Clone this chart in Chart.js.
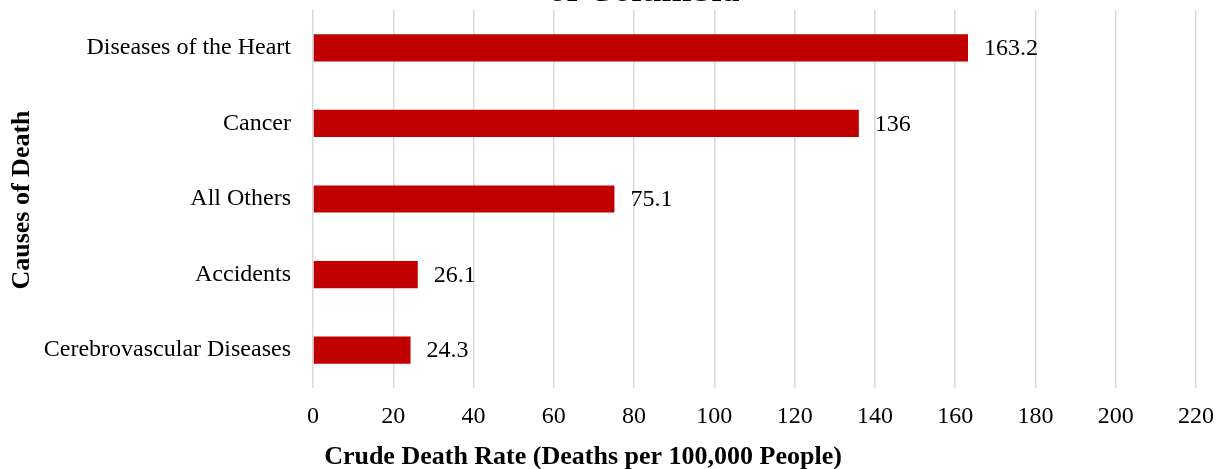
<!DOCTYPE html>
<html>
<head>
<meta charset="utf-8">
<script src="https://cdn.jsdelivr.net/npm/chart.js@4/dist/chart.umd.min.js"></script>
<style>
  html, body { margin: 0; padding: 0; background: #fff; }
  #wrap { width: 1216px; height: 469px; position: relative; }
</style>
</head>
<body>
<div id="wrap"><canvas id="chart"></canvas></div>
<script>
// Leading causes of death, crude rate per 100,000
const causes = ['Diseases of the Heart', 'Cancer', 'All Others', 'Accidents', 'Cerebrovascular Diseases'];
const rates = [163.2, 136, 75.1, 26.1, 24.3];
const xTicks = [0, 20, 40, 60, 80, 100, 120, 140, 160, 180, 200, 220];

const SERIF = '"Liberation Serif", "Times New Roman", serif';
const BAR_RED = '#C00000';

// value labels at the end of each bar + axis titles + clipped title line
const annotate = {
    id: 'annotate',
    afterDatasetsDraw(chart) {
        const ctx = chart.ctx;
        const meta = chart.getDatasetMeta(0);
        ctx.save();
        ctx.fillStyle = '#000';
        ctx.font = '24px ' + SERIF;
        ctx.textAlign = 'left';
        ctx.textBaseline = 'middle';
        meta.data.forEach((bar, i) => {
            ctx.fillText(String(rates[i]), bar.x + 16, bar.y + 1);
        });

        ctx.font = 'bold 26px ' + SERIF;
        ctx.textAlign = 'center';
        ctx.textBaseline = 'middle';
        ctx.fillText('Crude Death Rate (Deaths per 100,000 People)', 583, 457);

        ctx.save();
        ctx.translate(22, 200);
        ctx.rotate(-Math.PI / 2);
        ctx.fillText('Causes of Death', 0, 0);
        ctx.restore();

        // only the lower line of the title fits on the canvas
        ctx.font = 'bold 36px ' + SERIF;
        ctx.textBaseline = 'alphabetic';
        ctx.fillText('of Columbia', 644, 0.5);
        ctx.restore();
    }
};

new Chart(document.getElementById('chart').getContext('2d'), {
    type: 'bar',
    data: {
        labels: causes,
        datasets: [{
            data: rates,
            backgroundColor: BAR_RED,
            borderWidth: 0,
            barPercentage: 0.36,
            categoryPercentage: 1
        }]
    },
    options: {
        indexAxis: 'y',
        responsive: true,
        maintainAspectRatio: false,
        animation: false,
        layout: { padding: { top: 10, right: 20, left: 0, bottom: 0 } },
        plugins: {
            legend: { display: false },
            tooltip: { enabled: false }
        },
        scales: {
            x: {
                min: 0,
                max: 220,
                afterBuildTicks: (scale) => { scale.ticks = xTicks.map(v => ({ value: v })); },
                afterFit: (scale) => {
                    scale.height = 81;
                    scale.paddingLeft = 0;
                    scale.paddingRight = 0;
                },
                border: { display: false },
                grid: { color: '#d9d9d9', lineWidth: 1.5, drawTicks: false },
                ticks: {
                    padding: 14,
                    color: '#000',
                    font: { family: SERIF, size: 24 }
                }
            },
            y: {
                afterFit: (scale) => {
                    scale.width = 313;
                    scale.paddingTop = 0;
                    scale.paddingBottom = 0;
                },
                border: { display: false },
                grid: { display: false, drawTicks: false },
                ticks: {
                    padding: 22,
                    color: '#000',
                    font: { family: SERIF, size: 24 }
                }
            }
        }
    },
    plugins: [annotate]
});
</script>
</body>
</html>
